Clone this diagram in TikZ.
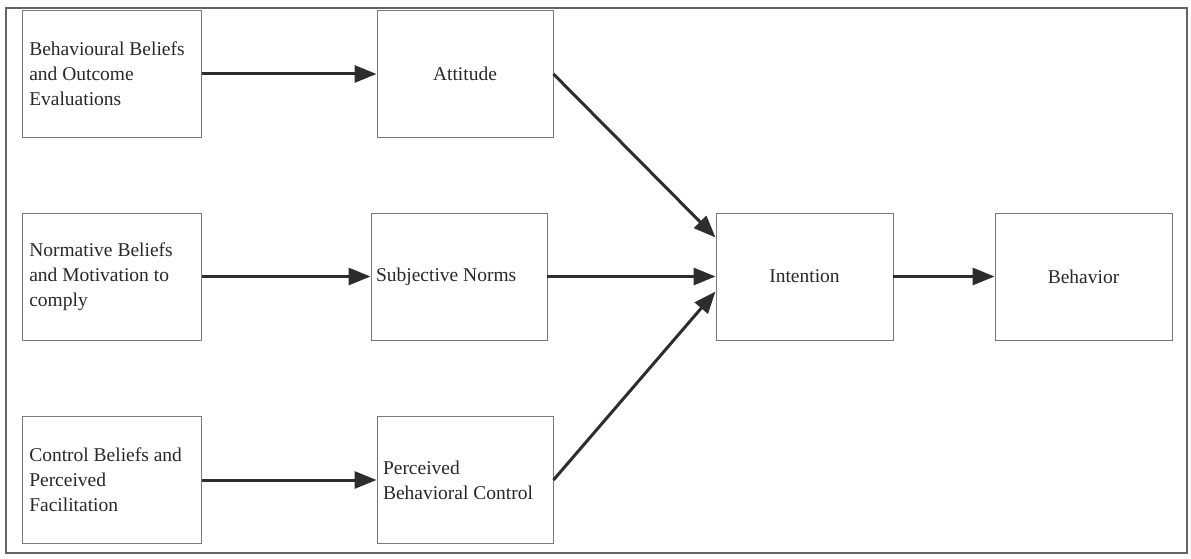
\documentclass[tikz,border=0pt]{standalone}
\usepackage{fontspec}
\setmainfont{Liberation Serif}
\usetikzlibrary{arrows.meta,calc}
\definecolor{boxgray}{RGB}{120,120,120}
\definecolor{framegray}{RGB}{100,100,100}
\definecolor{textgray}{RGB}{40,40,40}
\definecolor{arrowgray}{RGB}{45,45,45}
\begin{document}
\begin{tikzpicture}[x=1pt,y=-1pt,
  box/.style={draw=boxgray, line width=0.9pt, minimum height=127pt, inner ysep=0pt,
    font=\fontsize{19.5}{25}\selectfont, text=textgray},
  srcbox/.style={box, minimum width=179pt, text width=165pt, inner xsep=7pt, align=flush left},
  midbox/.style={box, minimum width=176pt, text width=164pt, inner xsep=6pt, align=flush left},
  ctrbox/.style={box, minimum width=177pt, align=center},
  link/.style={draw=arrowgray, line width=3pt,
    -{Triangle[length=22pt,width=17pt]}}]
  \useasboundingbox (0,0) rectangle (1191,559);
  % outer frame
  \draw[framegray, line width=1.4pt] (6,8) rectangle (1187,553);

  % belief boxes (left column)
  \node[srcbox] (bb) at (111.75,74) {Behavioural Beliefs\\and Outcome\\Evaluations};
  \node[srcbox] (nb) at (111.75,276.5) {Normative Beliefs\\and Motivation to\\comply};
  \node[srcbox] (cb) at (111.75,480) {Control Beliefs and\\Perceived\\Facilitation};

  % construct boxes (middle column)
  \node[ctrbox, minimum width=176pt] (att) at (465,74) {Attitude};
  \node[midbox, text width=166pt, inner xsep=5pt] (sn) at (459,276.5) {Subjective Norms};
  \node[midbox] (pbc) at (465,480) {Perceived\\Behavioral Control};

  % outcome boxes
  \node[ctrbox] (int) at (804.5,276.5) {Intention};
  \node[ctrbox] (beh) at (1083.5,276.5) {Behavior};

  % connectors
  \draw[link] (bb.east) -- (att.west);
  \draw[link] (nb.east) -- (sn.west);
  \draw[link] (cb.east) -- (pbc.west);
  \draw[link] (att.east) -- ($(int.west)+(0,-39)$);
  \draw[link] (sn.east) -- (int.west);
  \draw[link] (pbc.east) -- ($(int.west)+(0,15)$);
  \draw[link] (int.east) -- (beh.west);
\end{tikzpicture}
\end{document}
